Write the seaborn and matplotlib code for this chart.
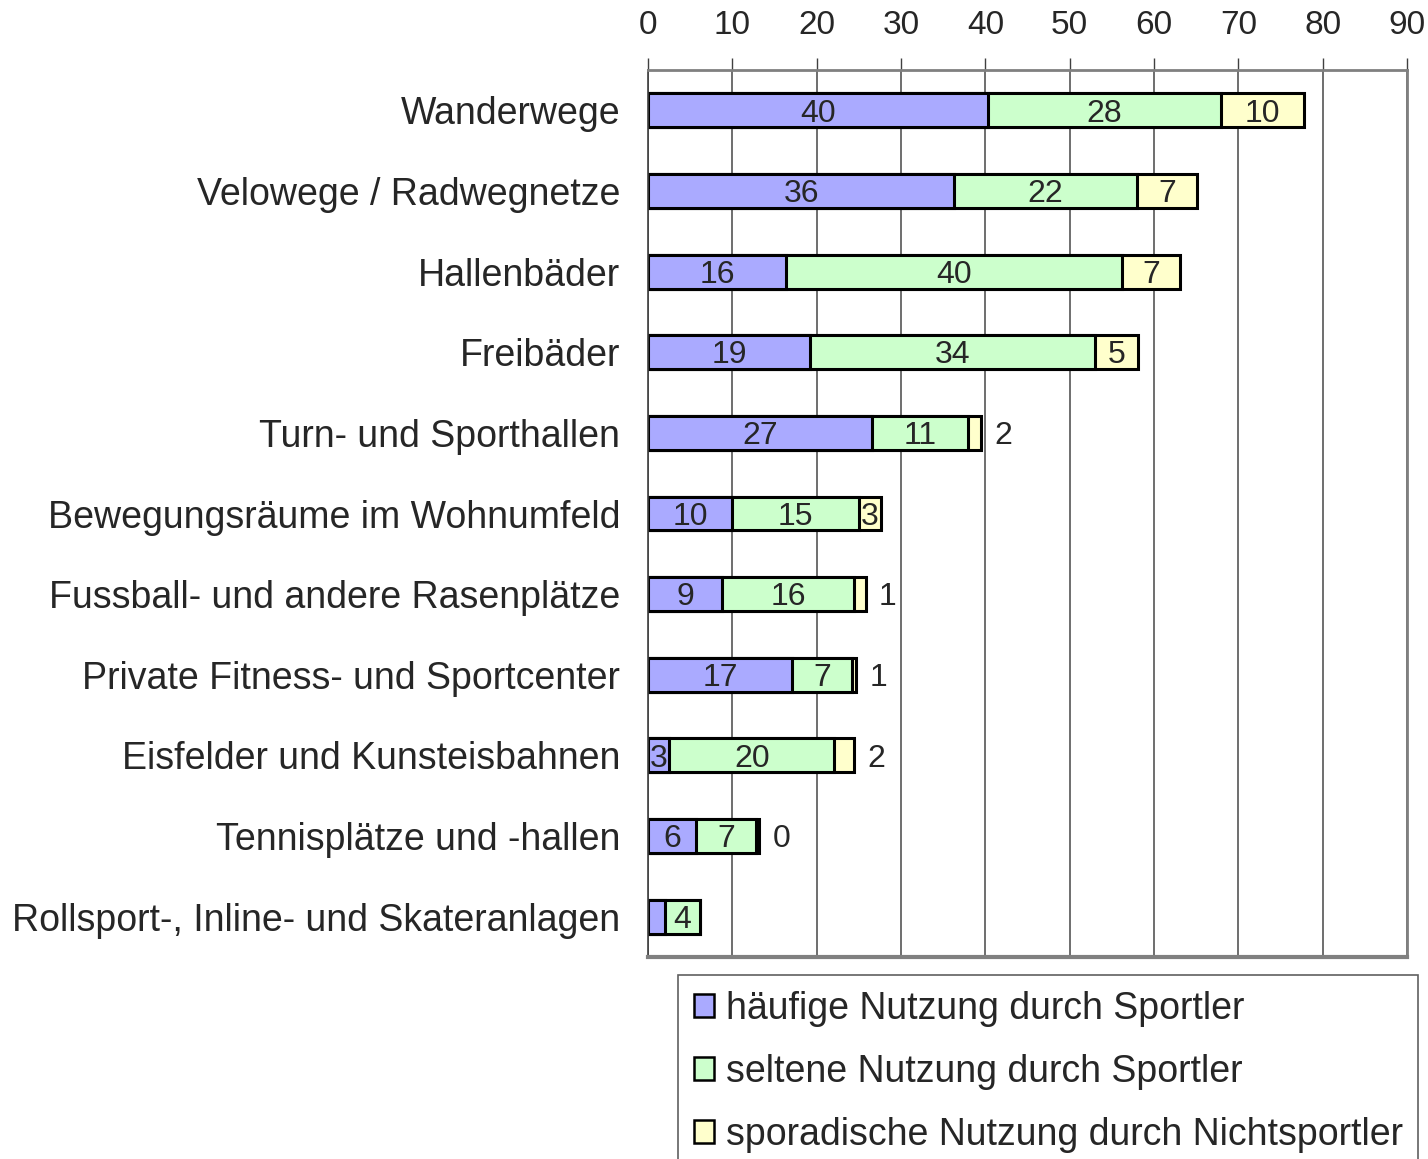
import matplotlib.pyplot as plt
from matplotlib import font_manager
import numpy as np
import pandas as pd
import seaborn as sns

categories = [
    "Wanderwege",
    "Velowege / Radwegnetze",
    "Hallenbäder",
    "Freibäder",
    "Turn- und Sporthallen",
    "Bewegungsräume im Wohnumfeld",
    "Fussball- und andere Rasenplätze",
    "Private Fitness- und Sportcenter",
    "Eisfelder und Kunsteisbahnen",
    "Tennisplätze und -hallen",
    "Rollsport-, Inline- und Skateranlagen",
]
series_names = [
    "häufige Nutzung durch Sportler",
    "seltene Nutzung durch Sportler",
    "sporadische Nutzung durch Nichtsportler",
]
# bar lengths (percent)
haeufig = [40.3, 36.3, 16.4, 19.2, 26.6, 10.0, 8.8, 17.1, 2.5, 5.7, 2.0]
selten = [27.6, 21.7, 39.8, 33.8, 11.3, 15.0, 15.6, 7.1, 19.6, 7.1, 4.2]
sporadisch = [9.9, 7.1, 6.9, 5.1, 1.6, 2.6, 1.4, 0.5, 2.3, 0.4, 0.0]
# printed labels
lab_haeufig = ["40", "36", "16", "19", "27", "10", "9", "17", "3", "6", ""]
lab_selten = ["28", "22", "40", "34", "11", "15", "16", "7", "20", "7", "4"]
lab_sporadisch = ["10", "7", "7", "5", "2", "3", "1", "1", "2", "0", ""]
outside = {
    "Turn- und Sporthallen",
    "Fussball- und andere Rasenplätze",
    "Private Fitness- und Sportcenter",
    "Eisfelder und Kunsteisbahnen",
    "Tennisplätze und -hallen",
}
colors = ["#AAAAFF", "#CCFFCC", "#FFFFCC"]
x_ticks = list(range(0, 91, 10))

sns.set_style("white")
plt.rcParams["font.family"] = ["Liberation Sans", "DejaVu Sans"]

installed = {f.name for f in font_manager.fontManager.ttflist}
narrow = "Liberation Sans Narrow" if "Liberation Sans Narrow" in installed else "Liberation Sans"

df = pd.DataFrame({"cat": categories, "a": haeufig, "b": selten, "c": sporadisch})
df["ab"] = df["a"] + df["b"]
df["abc"] = df["ab"] + df["c"]

fig = plt.figure(figsize=(14.28, 11.59), dpi=100)
ax = fig.add_axes([648 / 1428, 1 - 957 / 1159, (1407 - 648) / 1428, (957 - 70) / 1159])

# stacked bars: draw cumulative totals from longest to shortest
for col, color in zip(["abc", "ab", "a"], colors[::-1]):
    sns.barplot(data=df, x=col, y="cat", orient="h", color=color, width=0.42,
                edgecolor="black", linewidth=2.2, saturation=1, ax=ax)

fs = 27
vfs = 23
dy = 0.04  # nudge value labels down onto the bar centre
for i, cat in enumerate(categories):
    a, b, c = haeufig[i], selten[i], sporadisch[i]
    if lab_haeufig[i]:
        ax.text(a / 2, i + dy, lab_haeufig[i], ha="center", va="center", fontsize=vfs)
    if lab_selten[i]:
        ax.text(a + b / 2, i + dy, lab_selten[i], ha="center", va="center", fontsize=vfs)
    if lab_sporadisch[i]:
        if cat in outside:
            ax.text(a + b + c + 1.6, i + dy, lab_sporadisch[i], ha="left", va="center", fontsize=vfs)
        else:
            ax.text(a + b + c / 2, i + dy, lab_sporadisch[i], ha="center", va="center", fontsize=vfs)

ax.set_xlim(0, 90)
ax.set_ylim(len(categories) - 0.5, -0.5)
ax.set_xticks(x_ticks)
ax.xaxis.tick_top()
ax.tick_params(axis="x", direction="out", length=9, width=1, color="#404040",
               labelsize=24, pad=12)
for lbl in ax.get_xticklabels():
    lbl.set_family([narrow, "DejaVu Sans"])
ax.grid(axis="x", color="#555555", linewidth=1.2)
ax.set_axisbelow(True)

ax.set_yticks(range(len(categories)))
ax.set_yticklabels(categories)
ax.tick_params(axis="y", length=0, labelsize=fs, pad=20)
ax.set_yticks(np.arange(-0.5, len(categories)), minor=True)
ax.tick_params(axis="y", which="minor", direction="out", length=10, width=1, color="#404040")
ax.set_xlabel("")
ax.set_ylabel("")

for side in ["top", "right", "bottom"]:
    ax.spines[side].set_color("#808080")
ax.spines["top"].set_linewidth(2)
ax.spines["right"].set_linewidth(2)
ax.spines["bottom"].set_linewidth(3)
ax.spines["left"].set_color("#404040")
ax.spines["left"].set_linewidth(1.2)

handles = [plt.Rectangle((0, 0), 1, 1, facecolor=c, edgecolor="black", linewidth=1.8) for c in colors]
leg = fig.legend(handles, series_names, loc="upper left",
                 bbox_to_anchor=(678 / 1428, 1 - 975 / 1159), fontsize=fs,
                 handlelength=0.55, handleheight=0.55, handletextpad=0.3,
                 labelspacing=0.72, borderpad=0.42, fancybox=False,
                 framealpha=1, edgecolor="#606060", borderaxespad=0)
leg.get_frame().set_linewidth(1.2)

fig.savefig("out.png", dpi=100)
